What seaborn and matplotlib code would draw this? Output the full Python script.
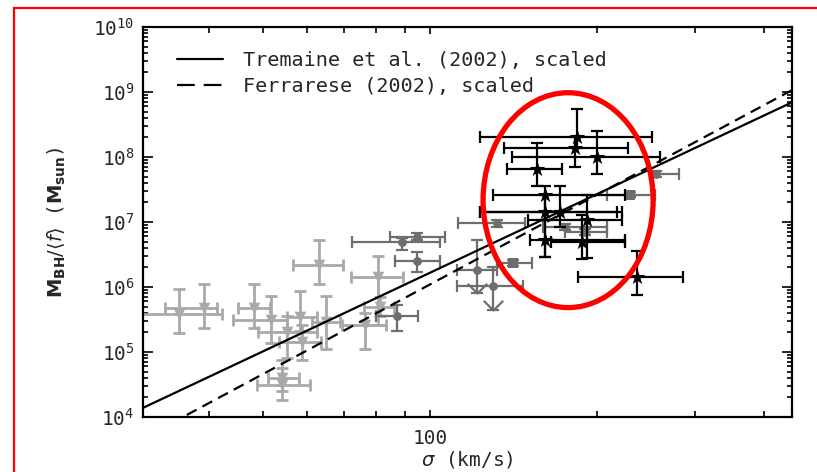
import numpy as np
import pandas as pd
import matplotlib
matplotlib.use('Agg')
import matplotlib.pyplot as plt
import matplotlib.ticker as mticker
from matplotlib.patches import Ellipse, Rectangle
import seaborn as sns

sns.set_style('ticks')
plt.rcParams['font.family'] = ['DejaVu Sans Mono', 'DejaVu Sans']

# light grey triangles: sigma (km/s) with its range, log10 mass with its range
tri_sigma = [35.3, 39.2, 48.2, 51.7, 55.2, 58.3, 58.8, 65.0, 63.1, 54.1, 54.1, 76.4, 80.6, 81.3]
tri_sigma_lo = [28.0, 33.3, 45.1, 44.1, 49.0, 55.2, 53.5, 61.3, 56.6, 48.8, 51.0, 69.4, 72.0, 76.0]
tri_sigma_hi = [42.2, 41.3, 51.5, 55.2, 62.5, 62.5, 63.5, 68.9, 69.7, 60.8, 58.0, 83.3, 89.4, 86.0]
tri_logm = [5.58, 5.68, 5.68, 5.49, 5.31, 5.54, 5.15, 5.46, 6.34, 4.49, 4.60, 5.42, 6.15, 5.69]
tri_logm_lo = [5.29, 5.37, 5.37, 5.14, 4.91, 5.32, 4.88, 5.05, 6.05, 4.26, 4.40, 5.05, 5.42, 5.55]
tri_logm_hi = [5.97, 6.05, 6.05, 5.86, 5.55, 5.94, 5.42, 5.86, 6.72, 4.88, 4.75, 5.60, 6.48, 5.85]

# dark grey circles
cir_sigma = [89.0, 94.7, 94.7, 87.2, 255.2, 132.1, 175.0, 190.0]
cir_sigma_lo = [72.3, 84.7, 86.5, 80.0, 249.0, 112.3, 160.0, 175.0]
cir_sigma_hi = [104.2, 106.4, 104.2, 95.0, 280.8, 148.3, 208.0, 208.0]
cir_logm = [6.69, 6.77, 6.40, 5.55, 7.74, 6.98, 6.92, 6.85]
cir_logm_lo = [6.57, 6.72, 6.23, 5.32, 7.70, 6.92, 6.88, 6.80]
cir_logm_hi = [6.75, 6.83, 6.54, 5.72, 7.78, 7.03, 6.97, 6.90]

# dark grey circles that are upper limits
lim_sigma = [121.6, 129.9]
lim_sigma_lo = [112.0, 111.9]
lim_sigma_hi = [132.0, 147.1]
lim_logm = [6.26, 6.02]
lim_logm_lo = [5.91, 5.65]
lim_logm_hi = [6.72, 6.31]

# dark grey squares
sq_sigma = [141.2, 229.3]
sq_sigma_lo = [132.1, 208.3]
sq_sigma_hi = [152.6, 254.2]
sq_logm = [6.37, 7.42]
sq_logm_lo = [6.33, 7.38]
sq_logm_hi = [6.41, 7.46]

# black stars
star_sigma = [184.0, 182.5, 200.0, 155.9, 161.1, 161.1, 171.5, 191.9, 161.1, 187.8, 235.9]
star_sigma_lo = [123.0, 135.9, 140.6, 137.6, 129.9, 123.0, 123.0, 150.0, 151.4, 165.0, 184.8]
star_sigma_hi = [251.0, 227.4, 259.4, 172.9, 225.0, 217.2, 221.7, 221.7, 224.6, 224.6, 285.8]
star_logm = [8.31, 8.14, 8.00, 7.82, 7.42, 7.15, 7.15, 7.03, 6.72, 6.69, 6.15]
star_logm_lo = [8.14, 7.85, 7.74, 7.55, 7.15, 6.46, 6.92, 6.45, 6.46, 6.43, 5.88]
star_logm_hi = [8.74, 8.31, 8.40, 8.22, 7.55, 7.42, 7.55, 7.42, 7.03, 7.11, 6.55]

# scaled M-sigma relations (end points)
line_sigma = [30, 450]
tremaine_mass = [1.31e4, 7.0e8]
ferrarese_mass = [4.4e3, 1.08e9]

# axis ticks
x_major = [100]
x_minor = [40, 50, 60, 70, 80, 90, 200, 300, 400]
y_major = [1e4, 1e5, 1e6, 1e7, 1e8, 1e9, 1e10]

fig = plt.figure(figsize=(8.17, 4.72), dpi=100)
ax = fig.add_axes([143 / 817, 55 / 472, 649 / 817, 390 / 472])


def draw_group(sig, sig_lo, sig_hi, lm, lm_lo, lm_hi, color, marker, size, lw, z):
    sig = np.array(sig)
    m = 10 ** np.array(lm)
    xerr = [sig - np.array(sig_lo), np.array(sig_hi) - sig]
    yerr = [m - 10 ** np.array(lm_lo), 10 ** np.array(lm_hi) - m]
    ax.errorbar(sig, m, xerr=xerr, yerr=yerr, fmt='none', ecolor=color,
                elinewidth=lw, capsize=4, capthick=lw, zorder=z)
    df = pd.DataFrame({'sigma': sig, 'mass': m})
    sns.scatterplot(data=df, x='sigma', y='mass', color=color, marker=marker,
                    s=size, edgecolor=color, linewidth=0, ax=ax, zorder=z + 0.1)


draw_group(tri_sigma, tri_sigma_lo, tri_sigma_hi, tri_logm, tri_logm_lo, tri_logm_hi,
           '#a9a9a9', 'v', 70, 2.0, 2)
draw_group(cir_sigma, cir_sigma_lo, cir_sigma_hi, cir_logm, cir_logm_lo, cir_logm_hi,
           '#6e6e6e', 'o', 40, 1.6, 3)
draw_group(lim_sigma, lim_sigma_lo, lim_sigma_hi, lim_logm, lim_logm_lo, lim_logm_hi,
           '#6e6e6e', 'o', 40, 1.6, 3)
draw_group(sq_sigma, sq_sigma_lo, sq_sigma_hi, sq_logm, sq_logm_lo, sq_logm_hi,
           '#6e6e6e', 's', 45, 1.6, 3)
# arrow heads for the upper limits
ax.plot(lim_sigma, 10 ** np.array(lim_logm_lo), ls='none', marker=[(-1, 1), (0, 0), (1, 1)],
        ms=14, mfc='none', mec='#6e6e6e', mew=1.6, zorder=3)

sns.lineplot(x=line_sigma, y=tremaine_mass, color='black', lw=1.6,
             label='Tremaine et al. (2002), scaled', ax=ax, zorder=4)
sns.lineplot(x=line_sigma, y=ferrarese_mass, color='black', lw=1.6, linestyle=(0, (5, 3)),
             label='Ferrarese (2002), scaled', ax=ax, zorder=4)

draw_group(star_sigma, star_sigma_lo, star_sigma_hi, star_logm, star_logm_lo, star_logm_hi,
           'black', '*', 140, 1.6, 5)

ax.set_xscale('log')
ax.set_yscale('log')
ax.set_xlim(30.4, 449)
ax.set_ylim(1e4, 1e10)

ax.xaxis.set_major_locator(mticker.FixedLocator(x_major))
ax.xaxis.set_major_formatter(mticker.FixedFormatter([str(v) for v in x_major]))
ax.xaxis.set_minor_locator(mticker.FixedLocator(x_minor))
ax.xaxis.set_minor_formatter(mticker.NullFormatter())
ax.yaxis.set_major_locator(mticker.FixedLocator(y_major))
ax.yaxis.set_major_formatter(mticker.LogFormatterSciNotation())
ax.yaxis.set_minor_locator(mticker.LogLocator(base=10, subs=np.arange(2, 10), numticks=20))
ax.yaxis.set_minor_formatter(mticker.NullFormatter())

ax.tick_params(axis='both', which='both', direction='in', top=True, right=True,
               labelsize=14, color='black', width=1.2)
ax.tick_params(axis='y', which='major', length=7, pad=6)
ax.tick_params(axis='y', which='minor', length=3.5)
ax.tick_params(axis='x', which='major', length=5, pad=9)
ax.tick_params(axis='x', which='minor', length=4)
for sp in ax.spines.values():
    sp.set_linewidth(1.6)
    sp.set_color('black')

ax.set_xlabel(r'$\sigma$ (km/s)', fontsize=14, labelpad=0)
ax.set_ylabel(r'$\mathbf{M_{BH}}/\langle f\rangle$ ($\mathbf{M_{sun}}$)', fontsize=14, labelpad=18)

leg = ax.legend(loc='upper left', bbox_to_anchor=(0.04, 0.96), frameon=False, fontsize=14.5,
                handlelength=2.3, handletextpad=1.0, labelspacing=0.35, borderaxespad=0)
leg.get_lines()[1].set_linestyle((0, (8, 4)))

# red ellipse highlighting the black stars
ax.add_patch(Ellipse((0.655, 0.556), 0.262, 0.551, transform=ax.transAxes, fill=False,
                     edgecolor='#ff0000', lw=3.8, zorder=6, clip_on=False))
# red frame round the figure
fig.patches.append(Rectangle((14 / 817, -0.01), 1.0, (464 / 472) + 0.01, transform=fig.transFigure,
                             fill=False, edgecolor='#ff0000', lw=1.6, clip_on=False))

fig.savefig('out.png', dpi=100)
